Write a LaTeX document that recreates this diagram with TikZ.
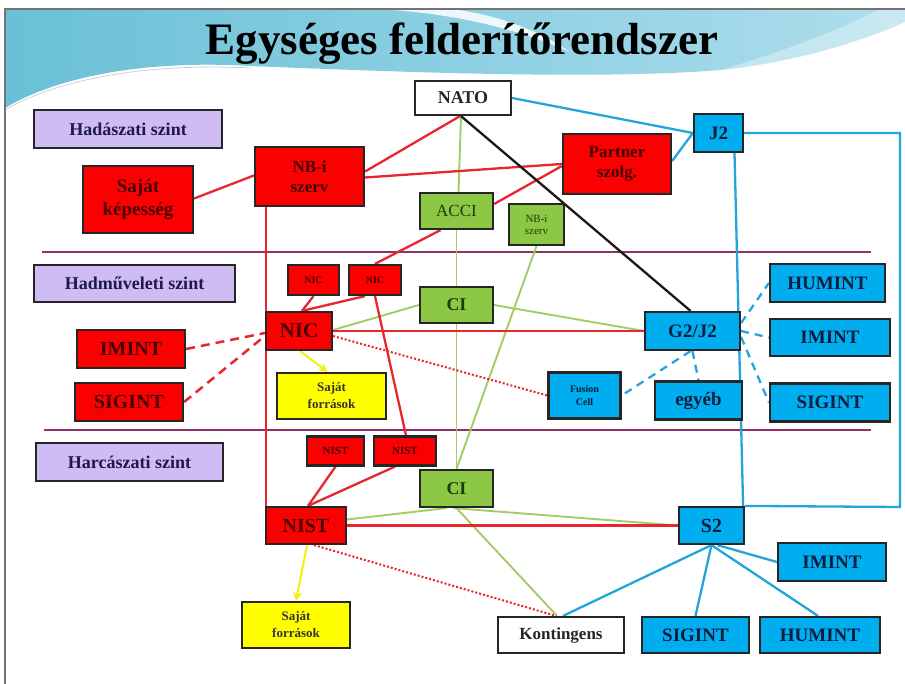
\documentclass[tikz,border=0pt]{standalone}
\usepackage{fontspec}
\setmainfont{Liberation Serif}
\usetikzlibrary{arrows.meta}
\definecolor{cred}{RGB}{250,0,0}
\definecolor{cline}{RGB}{232,38,48}
\definecolor{cblue}{RGB}{0,174,239}
\definecolor{cbline}{RGB}{35,165,220}
\definecolor{cgreen}{RGB}{140,200,70}
\definecolor{cgline}{RGB}{160,206,100}
\definecolor{cyel}{RGB}{255,255,0}
\definecolor{cyline}{RGB}{240,240,20}
\definecolor{clav}{RGB}{208,188,245}
\definecolor{cpurp}{RGB}{140,50,100}
\definecolor{tred}{RGB}{70,0,0}
\definecolor{tblue}{RGB}{10,30,60}
\definecolor{tgreen}{RGB}{30,60,10}
\definecolor{tlav}{RGB}{30,25,70}
\definecolor{skyL}{RGB}{105,192,215}
\definecolor{skyR}{RGB}{175,222,236}
\pgfdeclarelayer{back}
\pgfdeclarelayer{edges}
\pgfsetlayers{back,edges,main}
\begin{document}
\begin{tikzpicture}[x=1pt,y=-1pt,
 box/.style={draw=black!85,line width=2.2pt,inner sep=0pt,align=center,font=\bfseries\fontsize{18}{18}\selectfont},
 redbox/.style={box,fill=cred,text=tred},
 bluebox/.style={box,fill=cblue,text=tblue},
 greenbox/.style={box,fill=cgreen,text=tgreen},
 yelbox/.style={box,fill=cyel,text=black!80,font=\bfseries\fontsize{13}{15}\selectfont},
 lavbox/.style={box,fill=clav,text=tlav},
 whitebox/.style={box,fill=white,text=black!85},
 fs/.style={font=\bfseries\fontsize{#1}{#1}\selectfont},
 redl/.style={draw=cline,line width=2.3pt},
 greenl/.style={draw=cgline,line width=1.9pt},
 bluel/.style={draw=cbline,line width=2.3pt},
 blackl/.style={draw=black!90,line width=2.3pt},
 reddash/.style={draw=cline,line width=2.5pt,dash pattern=on 9pt off 6pt},
 reddot/.style={draw=cline,line width=2pt,dash pattern=on 2pt off 2pt},
 bluedash/.style={draw=cbline,line width=2.3pt,dash pattern=on 8pt off 6pt},
 yell/.style={draw=cyline,line width=2pt,-{Stealth[length=9pt,width=9pt]}},
 purpl/.style={draw=cpurp,line width=2pt}
]
\useasboundingbox (0,0) rectangle (905,684);
\begin{pgfonlayer}{back}
\fill[white] (0,0) rectangle (905,684);
\shade[left color=skyL,right color=skyR] (5,9) -- (905,9) -- (905,22) .. controls (870,38) and (800,62) .. (720,70) .. controls (600,80) and (400,72) .. (250,66) .. controls (150,60) and (60,75) .. (5,108) -- cycle;
\fill[white,opacity=.85] (380,9) .. controls (460,14) and (520,30) .. (570,52) .. controls (530,24) and (480,12) .. (450,9) -- cycle;
\fill[white,opacity=.35] (905,22) .. controls (870,38) and (800,62) .. (720,70) .. controls (790,50) and (850,25) .. (880,9) -- (905,9) -- cycle;
\draw[white,line width=2pt,opacity=.8] (5,112) .. controls (60,80) and (150,66) .. (250,70) .. controls (400,76) and (600,84) .. (720,74);
\draw[black!30,line width=0.8pt,opacity=.6] (5,110) .. controls (60,78) and (150,63) .. (250,68);
\draw[black!55,line width=2pt] (5,684) -- (5,9) -- (905,9);
\end{pgfonlayer}

\node[font=\bfseries\fontsize{45}{48}\selectfont,text=black,inner sep=0pt] (title) at (462,44) {Egységes felderítőrendszer};

% nodes
\node[whitebox,minimum width=96pt,minimum height=34pt] (nato) at (463,98) {NATO};
\node[lavbox,minimum width=188pt,minimum height=38pt] (lav1) at (128,129) {Hadászati szint};
\node[lavbox,minimum width=201pt,minimum height=37pt] (lav2) at (134.5,283.5) {Hadműveleti szint};
\node[lavbox,minimum width=187pt,minimum height=38pt] (lav3) at (129.5,462) {Harcászati szint};
\node[redbox,fs=17,minimum width=109pt,minimum height=59pt] (nbi) at (309.5,176.5) {NB-i\\[3pt]szerv};
\node[redbox,fs=19,minimum width=110pt,minimum height=67pt] (sajatk) at (138,199.5) {Saját\\[4pt]képesség};
\node[redbox,fs=17,minimum width=108pt,minimum height=60pt] (partner) at (617,164) {Partner\\[3pt]szolg.};
\node[bluebox,fs=19,minimum width=49pt,minimum height=38pt] (j2) at (718.5,133) {J2};
\node[greenbox,font=\fontsize{17}{17}\selectfont,minimum width=73pt,minimum height=36pt] (acci) at (456.5,211) {ACCI};
\node[greenbox,font=\fontsize{11}{12}\selectfont,minimum width=55pt,minimum height=41pt] (nbig) at (536.5,224.5) {NB-i\\szerv};
\node[redbox,fs=10,minimum width=51pt,minimum height=30pt] (nic1) at (313.5,280) {NIC};
\node[redbox,fs=10,minimum width=52pt,minimum height=30pt] (nic2) at (375,280) {NIC};
\node[greenbox,fs=18,minimum width=73pt,minimum height=36pt] (ci1) at (456.5,305) {CI};
\node[redbox,fs=21,minimum width=66pt,minimum height=38pt] (nic) at (299,331) {NIC};
\node[redbox,fs=20,minimum width=108pt,minimum height=38pt] (imr) at (131,349) {IMINT};
\node[redbox,fs=20,minimum width=108pt,minimum height=38pt] (sigr) at (129,402) {SIGINT};
\node[yelbox,minimum width=109pt,minimum height=46pt] (saj1) at (331.5,396) {Saját\\[2pt]források};
\node[bluebox,fs=19,minimum width=95pt,minimum height=38pt] (g2) at (692.5,331) {G2/J2};
\node[bluebox,fs=19,minimum width=115pt,minimum height=38pt] (humr) at (827.5,283) {HUMINT};
\node[bluebox,fs=19,minimum width=120pt,minimum height=37pt] (imbr) at (830,337.5) {IMINT};
\node[bluebox,fs=19,minimum width=120pt,minimum height=38pt] (sigbr) at (830,402.5) {SIGINT};
\node[bluebox,fs=10,minimum width=72pt,minimum height=46pt] (fusion) at (584.5,395.5) {Fusion\\[3pt]Cell};
\node[bluebox,fs=19,minimum width=87pt,minimum height=38pt] (egyeb) at (698.5,400.5) {egyéb};
\node[redbox,fs=11,minimum width=57pt,minimum height=29pt] (nist1) at (335.5,451) {NIST};
\node[redbox,fs=11,minimum width=62pt,minimum height=29pt] (nist2) at (405,451) {NIST};
\node[greenbox,fs=18,minimum width=73pt,minimum height=37pt] (ci2) at (456.5,488.5) {CI};
\node[redbox,fs=20,minimum width=80pt,minimum height=37pt] (nist) at (306,525.5) {NIST};
\node[bluebox,fs=20,minimum width=65pt,minimum height=37pt] (s2) at (711.5,525.5) {S2};
\node[bluebox,fs=19,minimum width=108pt,minimum height=38pt] (imb) at (832,562) {IMINT};
\node[yelbox,minimum width=108pt,minimum height=46pt] (saj2) at (296,625) {Saját\\[2pt]források};
\node[whitebox,fs=17,minimum width=126pt,minimum height=36pt] (kont) at (561,635) {Kontingens};
\node[bluebox,fs=19,minimum width=107pt,minimum height=36pt] (sigb) at (695.5,635) {SIGINT};
\node[bluebox,fs=19,minimum width=120pt,minimum height=36pt] (humb) at (820,635) {HUMINT};

\coordinate (p1a) at (42,252); \coordinate (p1b) at (871,252);
\coordinate (p2a) at (44,430); \coordinate (p2b) at (871,430);
\coordinate (rc1) at (900,133); \coordinate (rc2) at (900,507);

\begin{pgfonlayer}{edges}
\draw[purpl] (p1a) -- (p1b);
\draw[purpl] (p2a) -- (p2b);
% green
\draw[greenl] ([xshift=-2pt]nato.south) -- ([xshift=2pt]acci.north);
\draw[greenl] (acci.south) -- (ci1.north);
\draw[greenl] (ci1.south) -- (ci2.north);
\draw[greenl] (ci1.west) -- ([yshift=1pt]nic.east);
\draw[greenl] (ci1.east) -- (g2.west);
\draw[greenl] (nbig.south) -- (ci2.north);
\draw[greenl] ([xshift=-10pt]ci2.south) -- ([yshift=6pt]nist.east);
\draw[greenl] ([xshift=-3pt]ci2.south) -- (s2.west);
\draw[greenl] (ci2.south) -- ([xshift=-4pt]kont.north);
% red
\draw[redl] ([xshift=-3pt]nato.south) -- ([yshift=5pt]nbi.east);
\draw[redl] (partner.west) -- ([yshift=-1pt]nbi.east);
\draw[redl] ([yshift=1pt]sajatk.east) -- ([yshift=1pt]nbi.west);
\draw[redl] ([xshift=12pt]nbi.south west) -- ([xshift=1pt]nist.north west);
\draw[redl] ([yshift=-2pt]partner.west) -- ([yshift=7pt]acci.east);
\draw[redl] ([xshift=-16pt]acci.south) -- (nic2.north);
\draw[redl] (nic1.south) -- ([xshift=3pt]nic.north);
\draw[redl] ([xshift=-10pt]nic2.south) -- ([xshift=3pt]nic.north);
\draw[redl] (nic.east) -- (g2.west);
\draw[redl] (nic2.south) -- ([xshift=1pt]nist2.north);
\draw[redl] (nist1.south) -- ([xshift=2pt]nist.north);
\draw[redl] ([xshift=-10pt]nist2.south) -- ([xshift=2pt]nist.north);
\draw[redl] (nist.east) -- (s2.west);
\draw[reddash] (imr.east) -- ([yshift=-2pt]nic.west);
\draw[reddash] (sigr.east) -- ([yshift=-5pt]nic.west);
\draw[reddot] ([yshift=-5pt]nic.east) -- (fusion.west);
\draw[reddot] ([xshift=8pt]nist.south) -- ([xshift=-5pt]kont.north);
% yellow
\draw[yell] ([xshift=1pt]nic.south) -- ([xshift=-4pt]saj1.north);
\draw[yell] ([xshift=1pt]nist.south) -- (saj2.north);
% black
\draw[blackl] ([xshift=-2pt]nato.south) -- ([xshift=-2pt]g2.north);
% blue
\draw[bluel] (nato.east) -- (j2.west);
\draw[bluel] ([yshift=3pt]partner.east) -- (j2.west);
\draw[bluel] (j2.east) -- (rc1) -- (rc2) -- (s2.north east);
\draw[bluel] ([xshift=16pt]j2.south) -- ([xshift=-2pt]s2.north east);
\draw[bluedash] ([yshift=8pt]g2.east) -- (humr.west);
\draw[bluedash] (g2.east) -- (imbr.west);
\draw[bluedash] ([yshift=-6pt]g2.east) -- (sigbr.west);
\draw[bluedash] ([xshift=-2pt]g2.south) -- (fusion.east);
\draw[bluedash] (g2.south) -- (egyeb.north);
\draw[bluel] (s2.south) -- ([xshift=2pt]kont.north);
\draw[bluel] (s2.south) -- (sigb.north);
\draw[bluel] (s2.south) -- ([xshift=-2pt]humb.north);
\draw[bluel] ([xshift=6pt]s2.south) -- (imb.west);
\end{pgfonlayer}
\end{tikzpicture}
\end{document}
